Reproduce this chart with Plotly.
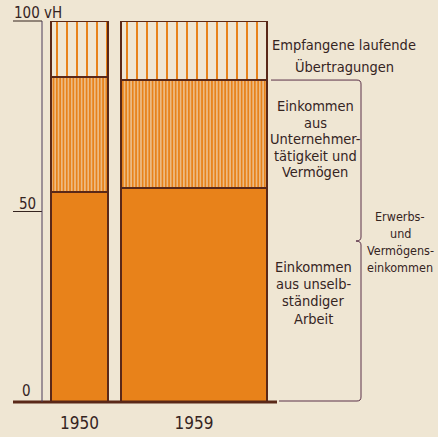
import plotly.graph_objects as go

# ---- data (vH = Prozent) ----
years = ["1950", "1959"]
arbeit = [55.0, 56.3]            # Einkommen aus unselbständiger Arbeit
unternehmer = [30.3, 28.2]       # Einkommen aus Unternehmertätigkeit und Vermögen
uebertragungen = [14.7, 15.5]    # Empfangene laufende Übertragungen
y_ticks = [0, 50, 100]
y_tick_text = ["0", "50", "100 vH"]

# ---- layout / style constants ----
W, H = 438, 437
ML, MR, MT, MB = 42, 161, 21, 35
PW = W - ML - MR            # plot width in px; x axis uses px units
PH = H - MT - MB
bar_centers = [37.5, 152.0]
bar_widths = [57, 146]

BG = "#EFE6D3"
ORANGE = "#E8821A"
OUT = "#5A2818"
TXT = "#35241F"
BRACE = "#5A3048"
FONT = "DejaVu Sans Condensed, DejaVu Sans, sans-serif"
DESC = 0.236  # font descent (em)


def px(xpix):
    """horizontal pixel position (from figure left) -> paper x"""
    return (xpix - ML) / PW


def pyp(ypix):
    """vertical pixel position (from figure top) -> paper y"""
    return (H - MB - ypix) / PH


def yp(v):
    """value in vH -> paper y"""
    return v / 100.0


line_style = dict(color=OUT, width=2)

fig = go.Figure()
fig.add_bar(x=bar_centers, y=arbeit, width=bar_widths,
            marker=dict(color=ORANGE, line=line_style), hoverinfo="skip")
fig.add_bar(x=bar_centers, y=unternehmer, width=bar_widths,
            marker=dict(color=ORANGE, line=line_style,
                        pattern=dict(shape="|", size=3.3, solidity=0.72,
                                     fgcolor=ORANGE, bgcolor=BG, fillmode="replace")),
            hoverinfo="skip")
fig.add_bar(x=bar_centers, y=uebertragungen, width=bar_widths,
            marker=dict(color=ORANGE, line=line_style,
                        pattern=dict(shape="|", size=10, solidity=0.2,
                                     fgcolor=ORANGE, bgcolor=BG, fillmode="replace")),
            hoverinfo="skip")

px_per_unit = PH / 100.0

# baseline (thick) extending left of axis
fig.add_shape(type="line", xref="paper", yref="paper", x0=px(13), x1=px(277), y0=0, y1=0,
              line=dict(color=OUT, width=3))
# tick lines for 50 and 100
for v in y_ticks[1:]:
    fig.add_shape(type="line", xref="paper", yref="paper", x0=px(13), x1=px(42),
                  y0=yp(v), y1=yp(v), line=dict(color=TXT, width=1))
# vertical axis line
fig.add_shape(type="line", xref="paper", yref="paper", x0=px(42), x1=px(42), y0=0, y1=1,
              line=dict(color="#4A3A5A", width=1))

# tick labels sitting on the tick lines
tick_label_x = {0: 21, 50: 18, 100: 13}
for v, t in zip(y_ticks, y_tick_text):
    fig.add_annotation(x=px(tick_label_x[v]), y=yp(v), xref="paper", yref="paper",
                       text=t, showarrow=False, xanchor="left", yanchor="bottom",
                       font=dict(family=FONT, size=15, color=TXT),
                       yshift=-DESC * 15 + (5 if v == 0 else 1.5), borderpad=0)


def add_lines(lines, baselines, xc, size):
    for line, b in zip(lines, baselines):
        fig.add_annotation(x=px(xc), y=pyp(b), xref="paper", yref="paper", text=line,
                           showarrow=False, xanchor="center", yanchor="bottom",
                           yshift=-DESC * size, borderpad=0,
                           font=dict(family=FONT, size=size, color=TXT))


add_lines(["Empfangene laufende", "Übertragungen"], [50.5, 72.5], 344, 14.5)
add_lines(["Einkommen", "aus", "Unternehmer-", "tätigkeit und", "Vermögen"],
          [112, 128.5, 145, 161.5, 178], 315, 14.5)
add_lines(["Einkommen", "aus unselb-", "ständiger", "Arbeit"],
          [273, 290, 307, 325], 313, 14.5)
add_lines(["Erwerbs-", "und", "Vermögens-", "einkommen"],
          [222.5, 239, 256, 273], 400, 12.5)

# brace for Erwerbs- und Vermögenseinkommen
m59 = arbeit[1] + unternehmer[1]
xb = 361
r = 4
top_y = MT + (100 - m59) * px_per_unit
mid_y = MT + (100 - m59 / 2) * px_per_unit
bot_y = MT + PH - 1


def P(xpix, ypix):
    return f"{px(xpix):.5f},{pyp(ypix):.5f}"


path = (f"M {P(271, top_y)} L {P(xb - r, top_y)} Q {P(xb, top_y)} {P(xb, top_y + r)} "
        f"L {P(xb, mid_y - r)} Q {P(xb, mid_y)} {P(xb - 5, mid_y)} "
        f"Q {P(xb, mid_y)} {P(xb, mid_y + r)} "
        f"L {P(xb, bot_y - r)} Q {P(xb, bot_y)} {P(xb - r, bot_y)} L {P(279, bot_y)}")
fig.add_shape(type="path", xref="paper", yref="paper", path=path,
              line=dict(color=BRACE, width=1))

fig.update_layout(
    width=W, height=H,
    margin=dict(l=ML, r=MR, t=MT, b=MB, pad=0, autoexpand=False),
    paper_bgcolor=BG, plot_bgcolor=BG,
    barmode="stack", bargap=0, showlegend=False,
    xaxis=dict(range=[0, PW], showgrid=False, zeroline=False, showline=False,
               automargin=False,
               tickvals=bar_centers, ticktext=years, ticks="outside", ticklen=6,
               tickcolor="rgba(0,0,0,0)",
               tickfont=dict(family=FONT, size=17, color=TXT), fixedrange=True),
    yaxis=dict(range=[0, 100], showgrid=False, zeroline=False, showline=False,
               automargin=False,
               showticklabels=False, ticks="", fixedrange=True),
)

fig.write_html(
    "out.html",
    config={"displayModeBar": False},
    post_script="document.body.style.margin='0';document.body.style.overflow='hidden';",
)
